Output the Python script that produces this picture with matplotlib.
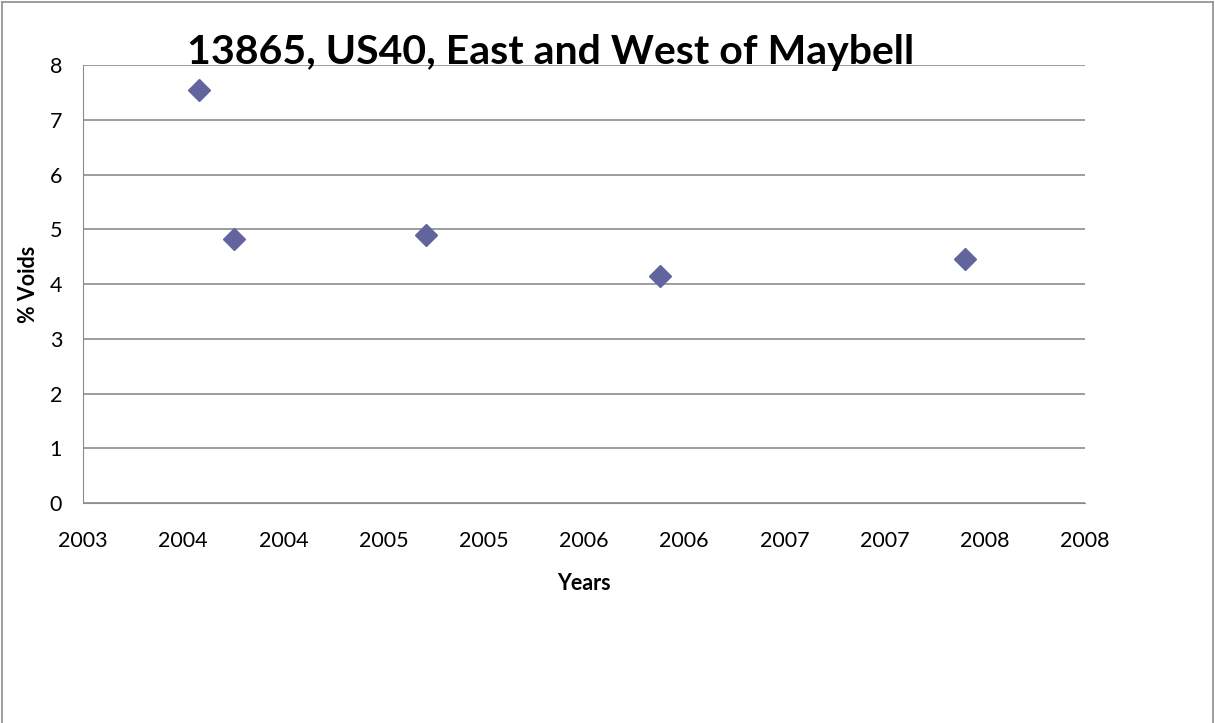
import matplotlib
matplotlib.use("Agg")
import matplotlib.pyplot as plt
from matplotlib.lines import Line2D
from matplotlib.ticker import FuncFormatter

years = [2003.58, 2003.755, 2004.71, 2005.88, 2007.40]
voids = [7.54, 4.82, 4.89, 4.15, 4.46]

x_ticks = [2003.0, 2003.5, 2004.0, 2004.5, 2005.0, 2005.5, 2006.0, 2006.5, 2007.0, 2007.5, 2008.0]
y_ticks = [0, 1, 2, 3, 4, 5, 6, 7, 8]

plt.rcParams['font.family'] = ['Lato', 'DejaVu Sans']

fig = plt.figure(figsize=(12.15, 7.23), dpi=100)
ax = fig.add_axes([0.0683, 0.3043, 0.8247, 0.6057])

ax.plot(years, voids, linestyle='none', marker='D', markersize=11.5,
        color='#62649E', markeredgecolor='#62649E')

ax.set_xlim(2003.0, 2008.0)
ax.set_ylim(0, 8)
ax.set_xticks(x_ticks)
ax.set_yticks(y_ticks)
# Excel shows the half-year ticks rounded to whole years
ax.xaxis.set_major_formatter(FuncFormatter(lambda v, p: str(int(v + 0.5))))

ax.grid(axis='y', color='#8c8c8c', linewidth=1.2)
ax.set_axisbelow(True)
for s in ['top', 'right']:
    ax.spines[s].set_visible(False)
ax.spines['left'].set_color('#8c8c8c')
ax.spines['bottom'].set_color('#8c8c8c')
ax.tick_params(length=0, labelsize=15.5)
ax.tick_params(axis='x', pad=20)
ax.tick_params(axis='y', pad=15)

ax.set_xlabel('Years', fontsize=15.5, fontweight='bold', labelpad=16)
ax.set_ylabel('% Voids', fontsize=15.5, fontweight='bold', labelpad=8)

fig.text(0.453, 0.911, '13865, US40, East and West of Maybell', fontsize=29.5,
         fontweight='bold', ha='center', va='baseline')

# chart border (bottom edge is cut off in the original)
edge = '#8c8c8c'
fig.add_artist(Line2D([0.002, 0.002], [0.0, 0.997], transform=fig.transFigure, color=edge, lw=1.2))
fig.add_artist(Line2D([0.002, 0.998], [0.997, 0.997], transform=fig.transFigure, color=edge, lw=1.2))
fig.add_artist(Line2D([0.998, 0.998], [0.0, 0.997], transform=fig.transFigure, color=edge, lw=1.2))

fig.savefig('out.png', dpi=100)
